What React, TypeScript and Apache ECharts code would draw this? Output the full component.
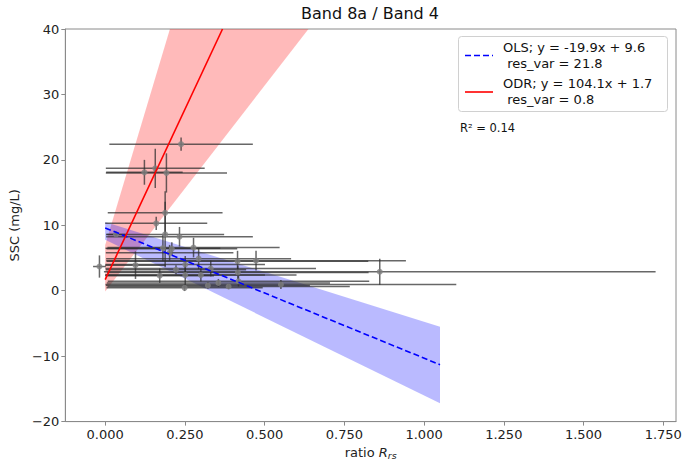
import React, { useEffect, useRef } from "react";
import * as echarts from "echarts";

const titleText = "Band 8a / Band 4";
const xTicks = [0, 0.25, 0.5, 0.75, 1.0, 1.25, 1.5, 1.75];
const yTicks = [-20, -10, 0, 10, 20, 30, 40];

// measured points (ratio Rrs, SSC) with symmetric errors
const ptX = [0.238, 0.123, 0.157, 0.192, 0.188, 0.16, 0.034, 0.188, 0.233, 0.181, 0.209, 0.277, 0.202, 0.293, 0.415, 0.473, 0.095, 0.251, 0.222, 0.331, 0.171, 0.251, 0.3, -0.018, 0.418, 0.355, 0.322, 0.387, 0.249, 0.551, 0.861, 0.416];
const ptY = [22.4, 18.1, 18.7, 18.0, 11.9, 10.3, 8.6, 8.6, 8.25, 6.5, 6.4, 6.6, 5.8, 4.9, 4.5, 4.6, 3.9, 4.0, 3.2, 3.4, 2.3, 2.4, 2.4, 3.7, 1.45, 1.2, 0.8, 0.65, 0.45, 0.95, 2.9, 2.8];
const ptXErr = [0.225, 0.12, 0.155, 0.19, 0.18, 0.16, 0.03, 0.185, 0.23, 0.18, 0.205, 0.27, 0.2, 0.29, 0.41, 0.47, 0.095, 0.25, 0.22, 0.33, 0.17, 0.25, 0.3, 0.02, 0.41, 0.35, 0.32, 0.38, 0.245, 0.55, 0.865, 0.41];
const ptYErr = [1.0, 1.9, 3.0, 3.0, 3.3, 1.0, 0.4, 5.0, 1.5, 2.0, 1.0, 1.5, 1.2, 1.6, 1.6, 1.5, 2.1, 1.3, 0.7, 1.2, 1.1, 1.5, 1.0, 1.7, 0.8, 0.6, 0.5, 0.4, 0.5, 0.7, 2.0, 1.0];

// fitted lines and confidence bands
const olsLine = [[0, 9.6], [1.05, -11.3]];
const olsBand = [[0, 10.5], [1.05, -5.5], [1.05, -17.2], [0, 7.8]];
const odrLine = [[0, 1.7], [0.3679, 40]];
const odrBand = [[0, -0.1], [0.6375, 40], [0.203, 40], [0, 7.0]];

const legendOls = ["OLS; y = -19.9x + 9.6", " res_var = 21.8"];
const legendOdr = ["ODR; y = 104.1x + 1.7", " res_var = 0.8"];
const r2Text = "R² = 0.14";

const FONT = "DejaVu Sans";

export default function App() {
  const ref = useRef<HTMLDivElement>(null);
  useEffect(() => {
    if (!ref.current) return;
    const chart = echarts.init(ref.current, null, { renderer: "svg" });
    const bandSeries = (band: number[][], color: string) => ({
      type: "custom",
      data: band,
      z: 1,
      silent: true,
      renderItem: (params: any, api: any) => {
        if (params.dataIndex !== 0) return null;
        return {
          type: "polygon",
          shape: { points: band.map((p) => api.coord(p)) },
          style: { fill: color, stroke: "none" },
        };
      },
    });
    const errData = ptX.map((x, i) => [x, ptY[i], ptXErr[i], ptYErr[i]]);
    const errColor = "rgba(45,45,45,0.72)";
    chart.setOption({
      animation: false,
      grid: { left: 63, top: 29, right: 12, bottom: 34, show: true, borderColor: "#8a8a8a", borderWidth: 1 },
      xAxis: {
        type: "value",
        min: -0.125,
        max: 1.79,
        splitLine: { show: false },
        axisLine: { show: true, onZero: false, lineStyle: { color: "#8a8a8a" } },
        axisTick: { show: true, length: 4, customValues: xTicks, lineStyle: { color: "#8a8a8a" } },
        axisLabel: { customValues: xTicks, formatter: (v: number) => v.toFixed(3), color: "#222", fontSize: 13, fontFamily: FONT, margin: 6 },
        name: "ratio {i|R}{s|rs}",
        nameLocation: "middle",
        nameGap: 21,
        nameTextStyle: {
          color: "#222", fontSize: 13, fontFamily: FONT,
          rich: {
            i: { fontStyle: "italic", fontSize: 13, fontFamily: FONT, color: "#222" },
            s: { fontStyle: "italic", fontSize: 9.5, fontFamily: FONT, color: "#222", padding: [6, 0, 0, 0] },
          },
        },
      },
      yAxis: {
        type: "value",
        min: -20,
        max: 40,
        interval: 10,
        splitLine: { show: false },
        axisLine: { show: true, onZero: false, lineStyle: { color: "#8a8a8a" } },
        axisTick: { show: true, length: 4, lineStyle: { color: "#8a8a8a" } },
        axisLabel: { color: "#222", fontSize: 13, fontFamily: FONT, margin: 6, formatter: (v: number) => (yTicks.includes(v) ? String(v).replace("-", "\u2212") : "") },
        name: "SSC (mg/L)",
        nameLocation: "middle",
        nameGap: 38,
        nameTextStyle: { color: "#222", fontSize: 13, fontFamily: FONT },
      },
      series: [
        bandSeries(odrBand, "rgba(255,0,0,0.27)"),
        bandSeries(olsBand, "rgba(0,0,255,0.27)"),
        {
          type: "custom",
          data: errData,
          z: 2,
          silent: true,
          encode: { x: 0, y: 1 },
          renderItem: (params: any, api: any) => {
            const x = api.value(0), y = api.value(1), xe = api.value(2), ye = api.value(3);
            const l = api.coord([x - xe, y]);
            const r = api.coord([x + xe, y]);
            const t = api.coord([x, y + ye]);
            const b = api.coord([x, y - ye]);
            return {
              type: "group",
              children: [
                { type: "line", shape: { x1: l[0], y1: l[1], x2: r[0], y2: r[1] }, style: { stroke: errColor, lineWidth: 1.5 } },
                { type: "line", shape: { x1: t[0], y1: t[1], x2: b[0], y2: b[1] }, style: { stroke: errColor, lineWidth: 1.5 } },
              ],
            };
          },
        },
        {
          type: "scatter",
          data: ptX.map((x, i) => [x, ptY[i]]),
          symbol: "circle",
          symbolSize: 6,
          itemStyle: { color: "#808080" },
          z: 3,
          silent: true,
        },
        {
          type: "line",
          data: olsLine,
          showSymbol: false,
          symbol: "none",
          lineStyle: { color: "#0000ff", width: 1.6, type: [6, 3] },
          z: 4,
          silent: true,
        },
        {
          type: "line",
          data: odrLine,
          showSymbol: false,
          symbol: "none",
          lineStyle: { color: "#ff0000", width: 1.6 },
          z: 4,
          silent: true,
        },
      ],
      graphic: [
        { type: "text", x: 370, y: 13, style: { text: titleText, font: `16px "${FONT}"`, fill: "#111", textAlign: "center", textVerticalAlign: "middle" } },
        { type: "rect", shape: { x: 458.5, y: 36.5, width: 209, height: 75, r: 3 }, style: { fill: "rgba(255,255,255,0.85)", stroke: "#d0d0d0", lineWidth: 1 }, z: 10 },
        { type: "line", shape: { x1: 465, y1: 55.5, x2: 493, y2: 55.5 }, style: { stroke: "#0000ff", lineWidth: 1.6, lineDash: [6, 3] }, z: 11 },
        { type: "line", shape: { x1: 465, y1: 92, x2: 493, y2: 92 }, style: { stroke: "#ff0000", lineWidth: 1.6 }, z: 11 },
        { type: "text", x: 503, y: 47.5, style: { text: legendOls[0], font: `13px "${FONT}"`, fill: "#111", textVerticalAlign: "middle" }, z: 11 },
        { type: "text", x: 503, y: 63.5, style: { text: legendOls[1], font: `13px "${FONT}"`, fill: "#111", textVerticalAlign: "middle" }, z: 11 },
        { type: "text", x: 503, y: 83.5, style: { text: legendOdr[0], font: `13px "${FONT}"`, fill: "#111", textVerticalAlign: "middle" }, z: 11 },
        { type: "text", x: 503, y: 99.5, style: { text: legendOdr[1], font: `13px "${FONT}"`, fill: "#111", textVerticalAlign: "middle" }, z: 11 },
        { type: "text", x: 460, y: 128, style: { text: r2Text, font: `11.5px "${FONT}"`, fill: "#111", textVerticalAlign: "middle" }, z: 11 },
      ],
    });
    return () => chart.dispose();
  }, []);
  return <div ref={ref} style={{ position: "absolute", left: 0, top: 0, width: 688, height: 465 }} />;
}
